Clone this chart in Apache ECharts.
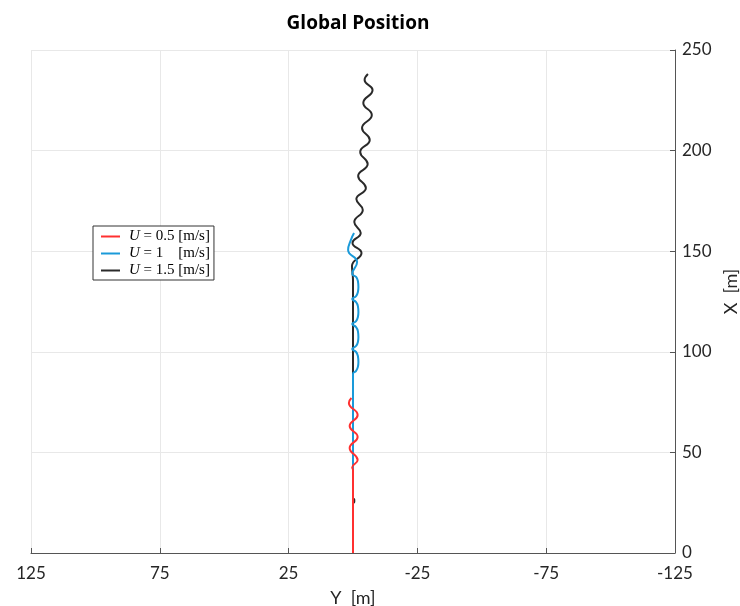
<!DOCTYPE html>
<html>
<head>
<meta charset="utf-8">
<script src="https://cdn.jsdelivr.net/npm/echarts@6/dist/echarts.min.js"></script>
<style>html,body{margin:0;padding:0;background:#fff}#c{width:740px;height:606px}</style>
</head>
<body>
<div id="c"></div>
<script>
// Pairs are [Y (lateral, m), X (forward, m)]
const seriesNames = ['U = 0.5 [m/s]', 'U = 1    [m/s]', 'U = 1.5 [m/s]'];
const redPath = [
  [0,0],[0,41.3],[0.3,42.5],[-1.8,46.2],[1.3,52.2],[-1.8,57.7],[1.3,63.1],[-1.8,68.6],[1.6,74.6],[0.6,77.0]
];
const bluePath = [
  [0,0],[0,89.0],[-1.2,90.5],[-1.9,92.5],[-2.1,94.9],[-1.9,97.9],[-1.2,99.9],[0.3,101.4],
  [-1.2,102.9],[-1.9,104.9],[-2.1,107.4],[-1.9,110.3],[-1.2,112.3],[0.3,113.8],
  [-1.2,115.3],[-1.9,117.3],[-2.1,119.8],[-1.9,122.7],[-1.2,124.7],[0.3,126.2],
  [-1.2,127.7],[-1.9,129.7],[-2.1,132.2],[-1.9,135.2],[-1.2,137.2],[0.3,138.7],
  [-1.6,144.6],[1.9,150.6],[0.8,155.6],[-0.4,159.0]
];
const blackPath = [
  [0,0],[0,24.5],[-0.5,25.5],[-0.5,26.5],[0,27.5],[0,135.7],[0.4,142.6],[-3.3,149.1],[0.2,154.1],
  [-3.0,159.0],[-0.5,164.5],[-3.8,170.5],[-1.3,175.9],[-5.0,181.4],[-2.0,187.4],
  [-5.7,193.3],[-2.8,199.3],[-6.5,205.3],[-3.5,211.2],[-7.3,217.7],[-4.0,223.7],
  [-7.6,230.1],[-4.5,235.1],[-5.8,238.1]
];
const xTicks = [-125, -75, -25, 25, 75, 125];
const yTicks = [0, 50, 100, 150, 200, 250];

const chart = echarts.init(document.getElementById('c'));
const axisFont = { fontFamily: 'Lato', fontSize: 17, color: '#262626' };
chart.setOption({
  animation: false,
  title: {
    text: 'Global Position', left: 353, top: 9, textAlign: 'center',
    textStyle: { fontFamily: 'Open Sans', fontWeight: 'bold', fontSize: 19, color: '#000' }
  },
  legend: {
    data: seriesNames,
    orient: 'vertical', left: 93, top: 226,
    backgroundColor: '#fff', borderColor: '#333', borderWidth: 1,
    padding: [3, 4, 2, 8], itemGap: 2,
    itemWidth: 19, itemHeight: 2, icon: 'rect',
    formatter: function (n) { return '{i|U}' + n.slice(1); },
    textStyle: {
      fontFamily: 'Liberation Serif', fontSize: 15, color: '#000', padding: [0, 0, 0, 4],
      rich: { i: { fontFamily: 'Liberation Serif', fontStyle: 'italic', fontSize: 15, color: '#000' } }
    }
  },
  grid: { left: 31, right: 65, top: 50, bottom: 53, containLabel: false, outerBoundsMode: 'none' },
  xAxis: {
    type: 'value', inverse: true, min: xTicks[0], max: xTicks[xTicks.length - 1], interval: 50,
    name: 'Y  [m]', nameLocation: 'middle', nameGap: 36,
    nameTextStyle: { fontFamily: 'Lato', fontSize: 18, color: '#262626' },
    axisLine: { show: true, onZero: false, lineStyle: { color: '#555', width: 1 } },
    axisTick: { show: true, inside: true, length: 5, lineStyle: { color: '#555' } },
    axisLabel: Object.assign({ margin: 12 }, axisFont),
    splitLine: { show: true, lineStyle: { color: '#e8e8e8', width: 1 } }
  },
  yAxis: {
    type: 'value', position: 'right', min: yTicks[0], max: yTicks[yTicks.length - 1], interval: 50,
    name: 'X  [m]', nameLocation: 'middle', nameGap: 46, nameRotate: 90,
    nameTextStyle: { fontFamily: 'Lato', fontSize: 18, color: '#262626', padding: [0, 0, 0, 20] },
    axisLine: { show: true, onZero: false, lineStyle: { color: '#555', width: 1 } },
    axisTick: { show: true, inside: true, length: 5, lineStyle: { color: '#555' } },
    axisLabel: Object.assign({ margin: 7 }, axisFont),
    splitLine: { show: true, lineStyle: { color: '#e8e8e8', width: 1 } }
  },
  series: [
    { name: seriesNames[2], type: 'line', data: blackPath, showSymbol: false, smooth: 0.5,
      color: '#2a2a2a', lineStyle: { width: 2, color: '#2a2a2a' } },
    { name: seriesNames[1], type: 'line', data: bluePath, showSymbol: false, smooth: 0.5,
      color: '#1a9ad9', lineStyle: { width: 2, color: '#1a9ad9' } },
    { name: seriesNames[0], type: 'line', data: redPath, showSymbol: false, smooth: 0.5,
      color: '#ff3030', lineStyle: { width: 2, color: '#ff3030' } }
  ]
});
</script>
</body>
</html>
